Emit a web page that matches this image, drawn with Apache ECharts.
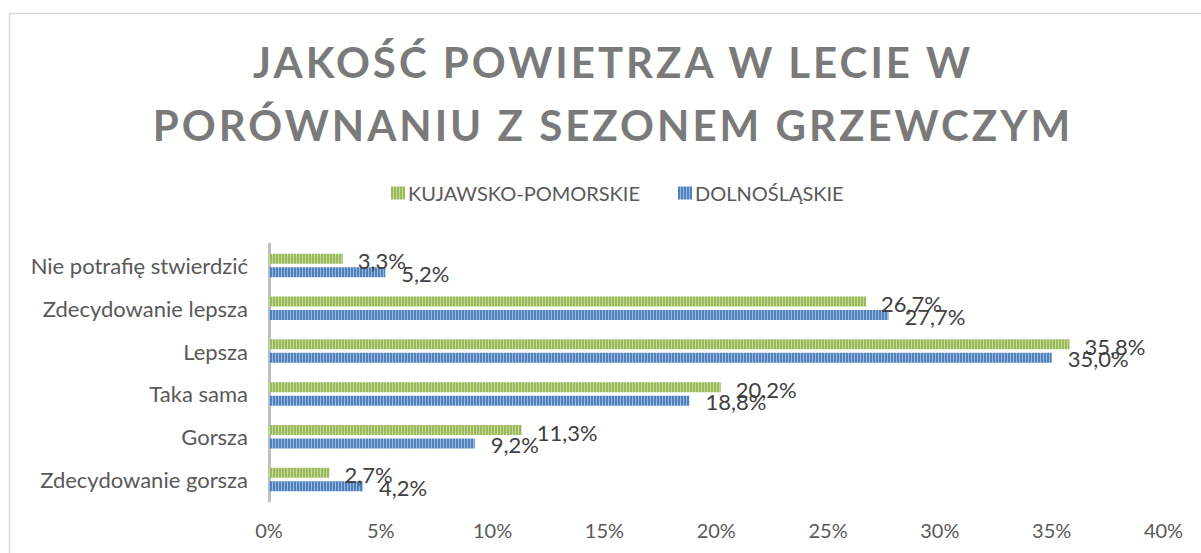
<!DOCTYPE html>
<html>
<head>
<meta charset="utf-8">
<script src="https://cdn.jsdelivr.net/npm/echarts@6/dist/echarts.min.js"></script>
<style>
  html, body { margin: 0; padding: 0; background: #fff; }
  #chart { width: 1201px; height: 553px; }
</style>
</head>
<body>
<div id="chart"></div>
<script>
// dane z wykresu
const categories = ['Zdecydowanie gorsza', 'Gorsza', 'Taka sama', 'Lepsza', 'Zdecydowanie lepsza', 'Nie potrafię stwierdzić'];
const seriesNames = ['KUJAWSKO-POMORSKIE', 'DOLNOŚLĄSKIE'];
const kujawskoPomorskie = [2.7, 11.3, 20.2, 35.8, 26.7, 3.3];
const dolnoslaskie = [4.2, 9.2, 18.8, 35.0, 27.7, 5.2];
const xTicks = { min: 0, max: 40, interval: 5 };

// paski w pionowe prążki jak w Excelu
const makeStripes = (base, light) => {
  const c = document.createElement('canvas');
  c.width = 3; c.height = 8;
  const ctx = c.getContext('2d');
  ctx.fillStyle = base;
  ctx.fillRect(0, 0, 3, 8);
  ctx.fillStyle = light;
  ctx.fillRect(2, 0, 1, 8);
  return { image: c, repeat: 'repeat' };
};
const greenFill = makeStripes('#9bbb59', '#c4d79e');
const blueFill = makeStripes('#4f81bd', '#9cb9dd');

const fmt = v => v.toFixed(1).replace('.', ',') + '%';
const font = 'Lato';

var chart = echarts.init(document.getElementById('chart'), null, { renderer: 'svg' });
var option = {
  animation: false,
  backgroundColor: '#fff',
  textStyle: { fontFamily: font },
  title: {
    text: 'JAKOŚĆ POWIETRZA W LECIE W\nPORÓWNANIU Z SEZONEM GRZEWCZYM',
    left: 608,
    top: 25,
    textAlign: 'center',
    textStyle: {
      fontFamily: font,
      fontWeight: 'bold',
      fontSize: 42,
      lineHeight: 63,
      color: '#7a7a7a'
    }
  },
  legend: {
    data: seriesNames,
    left: 386,
    top: 178,
    itemWidth: 14,
    itemHeight: 13,
    itemGap: 38,
    icon: 'rect',
    textStyle: { fontFamily: font, fontSize: 20, color: '#595959', padding: [0, 0, 0, -2] }
  },
  grid: { left: 269, right: 37.5, top: 244, bottom: 52, containLabel: false },
  xAxis: {
    type: 'value',
    min: xTicks.min,
    max: xTicks.max,
    interval: xTicks.interval,
    axisLine: { show: false },
    axisTick: { show: false },
    splitLine: { show: false },
    axisLabel: { formatter: v => v + '%', fontFamily: font, fontSize: 20, color: '#595959', margin: 19 }
  },
  yAxis: {
    type: 'category',
    data: categories,
    axisLine: { lineStyle: { color: '#bfbfbf', width: 3 } },
    axisTick: { show: false },
    axisLabel: { fontFamily: font, fontSize: 22, color: '#595959', margin: 21 }
  },
  series: [
    {
      name: seriesNames[0],
      type: 'bar',
      data: kujawskoPomorskie,
      barWidth: 10,
      barGap: '35%',
      itemStyle: { color: greenFill },
      label: {
        show: true, position: 'right', distance: 15,
        formatter: p => fmt(p.value),
        fontFamily: font, fontSize: 22, color: '#404040', offset: [0, 2]
      }
    },
    {
      name: seriesNames[1],
      type: 'bar',
      data: dolnoslaskie,
      barWidth: 10,
      barGap: '35%',
      itemStyle: { color: blueFill },
      label: {
        show: true, position: 'right', distance: 16,
        formatter: p => fmt(p.value),
        fontFamily: font, fontSize: 22, color: '#404040', offset: [0, 1]
      }
    }
  ],
  graphic: [
    {
      type: 'rect',
      shape: { x: 9.5, y: 13.5, width: 1300, height: 700 },
      style: { fill: 'none', stroke: '#d9d9d9', lineWidth: 1.5 },
      silent: true
    }
  ]
};
chart.setOption(option);

// rozstrzelenie liter w tytule
const spaceTitle = () => {
  document.querySelectorAll('#chart svg text').forEach(t => {
    const s = t.textContent;
    if (s.indexOf('JAKO') === 0 || s.indexOf('POR') === 0) t.setAttribute('letter-spacing', '3');
  });
};
spaceTitle();
chart.on('finished', spaceTitle);
</script>
</body>
</html>
